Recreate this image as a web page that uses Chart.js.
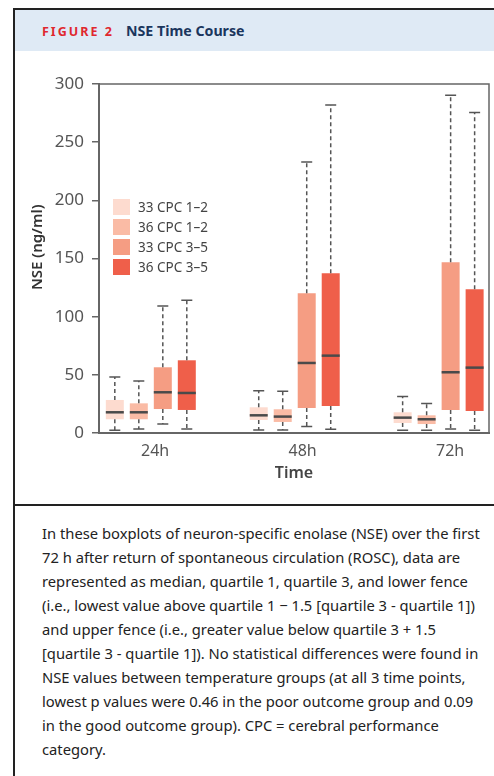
<!DOCTYPE html>
<html>
<head>
<meta charset="utf-8">
<script src="https://cdn.jsdelivr.net/npm/chart.js@4.4.1/dist/chart.umd.min.js"></script>
<style>
  body { margin: 0; width: 494px; height: 776px; overflow: hidden; background: #fff; position: relative; font-family: "Noto Sans", sans-serif; }
  .frame { position: absolute; left: 13px; top: 8px; width: 600px; height: 800px; border-left: 2px solid #222; border-top: 2px solid #222; }
  .head { position: absolute; left: 15px; top: 10px; width: 479px; height: 41px; background: #dfeaf5; }
  .fig { position: absolute; left: 42px; top: 24px; font-weight: 700; font-size: 12.5px; letter-spacing: 2px; color: #e0282e; line-height: 16px; }
  .ttl { position: absolute; left: 126px; top: 21px; font-weight: 700; font-size: 14.2px; color: #1b365d; line-height: 20px; }
  #wrap { position: absolute; left: 15px; top: 52px; width: 479px; height: 452px; }
  .rule { position: absolute; left: 13px; top: 504px; width: 600px; border-top: 2px solid #222; }
  .caption { position: absolute; left: 42px; top: 521px; font-size: 14.75px; line-height: 24px; color: #222; white-space: nowrap; }
  #legend { position: absolute; left: 113px; top: 199px; font-size: 13.5px; color: #444; }
  #legend div { height: 20px; display: flex; align-items: flex-start; }
  #legend span.sw { width: 17px; height: 16px; margin-right: 8px; }
  #legend span.tx { line-height: 16px; }
</style>
</head>
<body>
<div class="frame"></div>
<div class="head"></div>
<div class="fig">FIGURE 2</div>
<div class="ttl">NSE Time Course</div>
<div id="wrap"><canvas id="nse" width="479" height="452"></canvas></div>
<div id="legend"></div>
<div class="rule"></div>
<div class="caption">
In these boxplots of neuron-specific enolase (NSE) over the first<br>
72 h after return of spontaneous circulation (ROSC), data are<br>
represented as median, quartile 1, quartile 3, and lower fence<br>
(i.e., lowest value above quartile 1 &minus; 1.5 [quartile 3 - quartile 1])<br>
and upper fence (i.e., greater value below quartile 3 + 1.5<br>
[quartile 3 - quartile 1]). No statistical differences were found in<br>
NSE values between temperature groups (at all 3 time points,<br>
lowest p values were 0.46 in the poor outcome group and 0.09<br>
in the good outcome group). CPC = cerebral performance<br>
category.
</div>
<script>
const timeLabels = ['24h', '48h', '72h'];
const timePos = [1, 2, 3];
const groupLabels = ['33 CPC 1–2', '36 CPC 1–2', '33 CPC 3–5', '36 CPC 3–5'];
const groupColors = ['#fddbcf', '#fabba5', '#f59d83', '#ef5f4a'];

// one row per group, columns are 24h, 48h, 72h
const lowerFence = [
  [2.3, 2.6, 2.3],
  [3.4, 2.6, 2.3],
  [7.7, 5.5, 3.4],
  [3.4, 3.2, 2.3]
];
const quartile1 = [
  [11.8, 11.2, 8.6],
  [11.8, 9.5, 7.7],
  [20.6, 21.5, 19.8],
  [19.8, 23.2, 18.9]
];
const medians = [
  [17.8, 15.2, 13.2],
  [17.8, 14.1, 11.8],
  [35.0, 60.2, 52.2],
  [34.4, 66.5, 56.2]
];
const quartile3 = [
  [28.4, 22.1, 17.8],
  [25.5, 20.4, 15.2],
  [56.5, 120.1, 146.7],
  [62.5, 137.3, 123.5]
];
const upperFence = [
  [48.1, 36.4, 31.3],
  [44.7, 35.8, 25.3],
  [109.2, 233.0, 290.3],
  [114.1, 282.0, 275.4]
];

const font = '"Noto Sans", sans-serif';

// whiskers, caps, medians and the box around the plot
const boxExtras = {
  id: 'boxExtras',
  afterDatasetsDraw(chart) {
    const ctx = chart.ctx;
    const y = chart.scales.y;
    chart.data.datasets.forEach((ds, g) => {
      chart.getDatasetMeta(g).data.forEach((bar, t) => {
        const x = bar.x;
        const half = bar.width / 2;
        const yLo = y.getPixelForValue(lowerFence[g][t]);
        const yQ1 = y.getPixelForValue(quartile1[g][t]);
        const yMed = y.getPixelForValue(medians[g][t]);
        const yQ3 = y.getPixelForValue(quartile3[g][t]);
        const yHi = y.getPixelForValue(upperFence[g][t]);
        ctx.save();
        ctx.strokeStyle = '#555';
        ctx.lineWidth = 1.5;
        ctx.setLineDash([4, 3]);
        ctx.beginPath();
        ctx.moveTo(x, yQ3); ctx.lineTo(x, yHi);
        ctx.moveTo(x, yQ1); ctx.lineTo(x, yLo);
        ctx.stroke();
        ctx.setLineDash([]);
        ctx.beginPath();
        ctx.moveTo(x - 5.5, yHi); ctx.lineTo(x + 5.5, yHi);
        ctx.moveTo(x - 5.5, yLo); ctx.lineTo(x + 5.5, yLo);
        ctx.stroke();
        ctx.strokeStyle = '#4a4a4a';
        ctx.lineWidth = 2.5;
        ctx.beginPath();
        ctx.moveTo(x - half, yMed); ctx.lineTo(x + half, yMed);
        ctx.stroke();
        ctx.restore();
      });
    });
    const a = chart.chartArea;
    ctx.save();
    ctx.strokeStyle = '#666';
    ctx.lineWidth = 1.5;
    ctx.beginPath();
    ctx.moveTo(a.left, a.top); ctx.lineTo(a.right, a.top); ctx.lineTo(a.right, a.bottom);
    ctx.stroke();
    ctx.restore();
  }
};

const chart = new Chart(document.getElementById('nse'), {
  type: 'bar',
  data: {
    datasets: groupLabels.map((label, g) => ({
      label: label,
      backgroundColor: groupColors[g],
      borderWidth: 0,
      categoryPercentage: 0.667,
      barPercentage: 0.75,
      data: timePos.map((x, t) => ({ x: x, y: [quartile1[g][t], quartile3[g][t]] }))
    }))
  },
  plugins: [boxExtras],
  options: {
    responsive: false,
    animation: false,
    layout: { padding: { left: 10, right: 5, top: 32, bottom: 0 } },
    plugins: { legend: { display: false }, tooltip: { enabled: false } },
    scales: {
      x: {
        type: 'linear',
        min: 0.64,
        max: 3.35,
        offset: false,
        // labels sit a little right of the box groups
        afterBuildTicks: s => { s.ticks = [1.03, 2.055, 3.08].map(v => ({ value: v })); },
        afterFit: s => { s.height = 71; },
        ticks: {
          callback: (v, i) => timeLabels[i],
          font: { family: font, size: 16 },
          color: '#555',
          padding: 9,
          maxRotation: 0,
          autoSkip: false
        },
        grid: { display: false, drawTicks: false },
        border: { color: '#666', width: 2 },
        title: {
          display: true,
          text: 'Time',
          font: { family: font, size: 16, weight: '600' },
          color: '#444',
          padding: { top: 0, bottom: 21 }
        }
      },
      y: {
        min: 0,
        max: 300,
        afterFit: s => { s.width = 74; },
        ticks: { stepSize: 50, font: { family: font, size: 17 }, color: '#555', padding: 8 },
        grid: { drawOnChartArea: false, tickLength: 7, color: '#666', lineWidth: 1.5 },
        border: { color: '#666', width: 2 },
        title: {
          display: true,
          // leading em spaces lift the title a little above the axis middle
          text: '\u2003\u2002NSE (ng/ml)',
          font: { family: font, size: 15, weight: '600' },
          color: '#333',
          padding: { top: 4, bottom: 0 }
        }
      }
    }
  }
});

// legend built from the datasets
const legend = document.getElementById('legend');
chart.data.datasets.forEach(ds => {
  const row = document.createElement('div');
  row.innerHTML = '<span class="sw" style="background:' + ds.backgroundColor + '"></span><span class="tx">' + ds.label + '</span>';
  legend.appendChild(row);
});
</script>
</body>
</html>
